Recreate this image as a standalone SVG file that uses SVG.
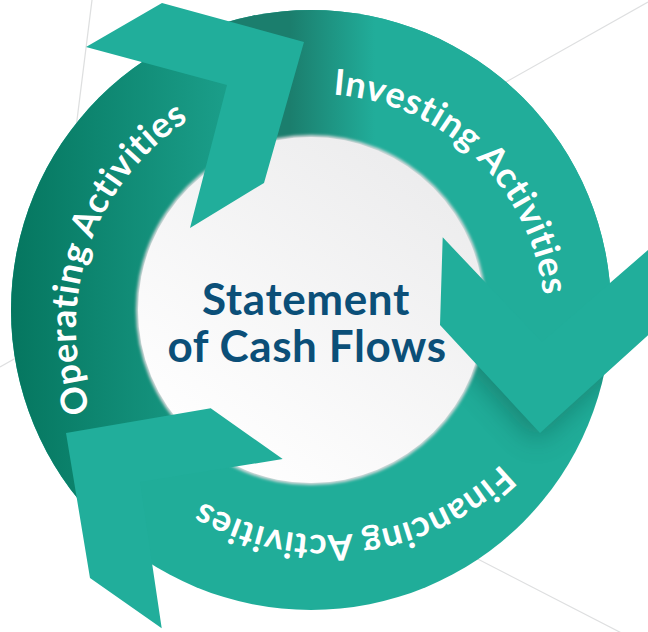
<svg xmlns="http://www.w3.org/2000/svg" width="648" height="632" viewBox="0 0 648 632">
<style>
.bg{stroke:#dedfe0;stroke-width:1.2;fill:none}
.head{fill:#21ae9b}
.lbl{font-family:Lato,"Open Sans",sans-serif;font-weight:700;font-size:36px;fill:#ffffff;letter-spacing:0.6px}
.title{font-family:Lato,"Open Sans",sans-serif;font-weight:700;font-size:44px;fill:#0b4f78;text-anchor:middle;letter-spacing:0.6px}
</style>
<defs>
<linearGradient id="gOp" gradientUnits="userSpaceOnUse" x1="10" y1="0" x2="270" y2="0">
<stop offset="0" stop-color="#05765f"/><stop offset="1" stop-color="#1fa692"/>
</linearGradient>
<linearGradient id="gInv" gradientUnits="userSpaceOnUse" x1="290" y1="0" x2="375" y2="0">
<stop offset="0" stop-color="#1b7e6d"/><stop offset="1" stop-color="#21ad9a"/>
</linearGradient>
<linearGradient id="gCenter" gradientUnits="userSpaceOnUse" x1="200" y1="460" x2="420" y2="160">
<stop offset="0" stop-color="#ffffff"/><stop offset="1" stop-color="#ececed"/>
</linearGradient>
<clipPath id="annulus"><path clip-rule="evenodd" d="M11,310 A300,300 0 1 1 611,310 A300,300 0 1 1 11,310 Z M138,310 A173,173 0 1 0 484,310 A173,173 0 1 0 138,310 Z"/></clipPath>
<clipPath id="clipOp"><polygon points="246.7,433.7 103,457.5 125.9,603.2 -100,700 -100,-100 124,-100 124,25 265.5,63.5 227,205.5"/></clipPath>
<clipPath id="clipInv"><polygon points="124,25 265.5,63.5 227,205.5 441.4,281 541,387.5 720,228.5 720,-100 124,-100"/></clipPath>
<clipPath id="clipFinSide"><polygon points="400,240 441.4,281 541,387.5 720,228.5 720,720 300,720"/></clipPath>
<filter id="soft" x="-40%" y="-40%" width="180%" height="180%"><feGaussianBlur stdDeviation="14"/></filter>
<filter id="rim" x="-10%" y="-10%" width="120%" height="120%"><feGaussianBlur stdDeviation="1.5"/></filter>
<path id="arcOp" d="M137.2,489.4 A246,246 0 0 1 273.8,85.8"/>
<path id="arcInv" d="M253,103.2 A228,228 0 0 1 538.5,376"/>
<path id="arcFin" d="M556.4,382.9 A249,249 0 0 1 128.4,436.2"/>
</defs>
<rect width="648" height="632" fill="#ffffff"/>
<g id="background-lines">
<line class="bg" x1="0" y1="367" x2="648" y2="2"/>
<line class="bg" x1="92" y1="0" x2="62" y2="240"/>
<line class="bg" x1="400" y1="519" x2="640" y2="642.5"/>
</g>
<g id="connectors">
<circle cx="311" cy="310" r="300" fill="#20ad99"/>
<g clip-path="url(#clipOp)"><circle cx="311" cy="310" r="300" fill="url(#gOp)"/></g>
<g clip-path="url(#clipInv)"><circle cx="311" cy="310" r="300" fill="url(#gInv)"/></g>
<g clip-path="url(#annulus)"><g clip-path="url(#clipFinSide)">
<polygon points="442.7,237.3 542,342 720,187.5 720,270 540,433 440,325" fill="#0a4a3e" opacity="0.4" filter="url(#soft)" transform="translate(-4,8)"/>
</g></g>
</g>
<g id="center">
<circle cx="311" cy="310" r="175" fill="#d9dadc" filter="url(#rim)"/>
<circle cx="311" cy="310" r="173" fill="url(#gCenter)"/>
<text class="title" x="306" y="315">Statement</text>
<text class="title" x="307" y="362">of Cash Flows</text>
</g>
<g id="operating">
<polygon class="head" points="86,47 162,3 304,42 264,183 190,228 227,85"/>
<text class="lbl"><textPath href="#arcOp" startOffset="50%" text-anchor="middle">Operating Activities</textPath></text>
</g>
<g id="investing">
<polygon class="head" points="442.7,237.3 542,342 720,187.5 720,270 540,433 440,325"/>
<text class="lbl"><textPath href="#arcInv" startOffset="50%" text-anchor="middle">Investing Activities</textPath></text>
</g>
<g id="financing">
<polygon class="head" points="66,433 210.7,408.3 282.7,459 140,482 161.7,628.3 90,578"/>
<text class="lbl"><textPath href="#arcFin" startOffset="50%" text-anchor="middle">Financing Activities</textPath></text>
</g>
</svg>
